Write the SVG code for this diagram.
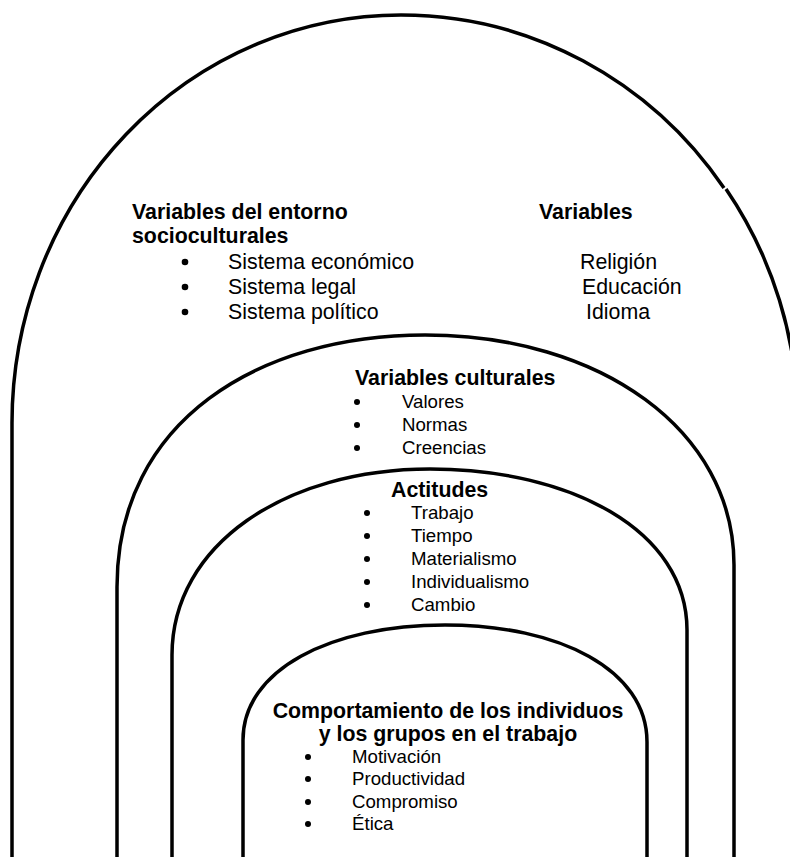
<svg xmlns="http://www.w3.org/2000/svg" width="790" height="857" viewBox="0 0 790 857">
<style>
.arch{fill:none;stroke:#000;stroke-width:3.5}
text{font-family:"Liberation Sans",Arial,sans-serif;fill:#000}
.h{font-weight:bold;font-size:21.33px}
.b1{font-size:21.33px}
.b2{font-size:18.67px}
.dot{fill:#000}
</style>
<rect width="790" height="857" fill="#fff"/>
<g id="connectors">
<path class="arch" d="M12,857 V423 A389,408 0 0 1 401,15 A395,408 0 0 1 724,188"/>
<path class="arch" d="M726,189 A395,408 0 0 1 798,423 V857"/>
<path class="arch" d="M117,857 V587 C117,420 260,335 425,335 C600,335 734,430 734,565 V857"/>
<path class="arch" d="M172,857 V655 C172,545 285,469 430,469 C570,469 687,530 687,630 V857"/>
<path class="arch" d="M243,857 V740 C243,670 330,625 445,625 C560,625 647,670 647,742 V857"/>
</g>
<g id="entorno">
<text class="h" x="132" y="219">Variables del entorno</text>
<text class="h" x="132" y="243">socioculturales</text>
<circle class="dot" cx="185" cy="262" r="3.3"/>
<circle class="dot" cx="185" cy="287" r="3.3"/>
<circle class="dot" cx="185" cy="312" r="3.3"/>
<text class="b1" x="228" y="269">Sistema económico</text>
<text class="b1" x="228" y="294">Sistema legal</text>
<text class="b1" x="228" y="319">Sistema político</text>
</g>
<g id="variables">
<text class="h" x="539" y="219">Variables</text>
<text class="b1" x="580" y="269">Religión</text>
<text class="b1" x="582" y="294">Educación</text>
<text class="b1" x="586" y="319">Idioma</text>
</g>
<g id="culturales">
<text class="h" x="355" y="385">Variables culturales</text>
<circle class="dot" cx="357" cy="402" r="3"/>
<circle class="dot" cx="357" cy="425" r="3"/>
<circle class="dot" cx="357" cy="448" r="3"/>
<text class="b2" x="402" y="408">Valores</text>
<text class="b2" x="402" y="431">Normas</text>
<text class="b2" x="402" y="454">Creencias</text>
</g>
<g id="actitudes">
<text class="h" x="391" y="497">Actitudes</text>
<circle class="dot" cx="367" cy="513" r="3"/>
<circle class="dot" cx="367" cy="536" r="3"/>
<circle class="dot" cx="367" cy="559" r="3"/>
<circle class="dot" cx="367" cy="582" r="3"/>
<circle class="dot" cx="367" cy="605" r="3"/>
<text class="b2" x="411" y="519">Trabajo</text>
<text class="b2" x="411" y="542">Tiempo</text>
<text class="b2" x="411" y="565">Materialismo</text>
<text class="b2" x="411" y="588">Individualismo</text>
<text class="b2" x="411" y="611">Cambio</text>
</g>
<g id="comportamiento">
<text class="h" x="448" y="718" text-anchor="middle">Comportamiento de los individuos</text>
<text class="h" x="448" y="741" text-anchor="middle">y los grupos en el trabajo</text>
<circle class="dot" cx="308" cy="757" r="3"/>
<circle class="dot" cx="308" cy="779" r="3"/>
<circle class="dot" cx="308" cy="802" r="3"/>
<circle class="dot" cx="308" cy="824" r="3"/>
<text class="b2" x="352" y="763">Motivación</text>
<text class="b2" x="352" y="785">Productividad</text>
<text class="b2" x="352" y="808">Compromiso</text>
<text class="b2" x="352" y="830">Ética</text>
</g>
</svg>
